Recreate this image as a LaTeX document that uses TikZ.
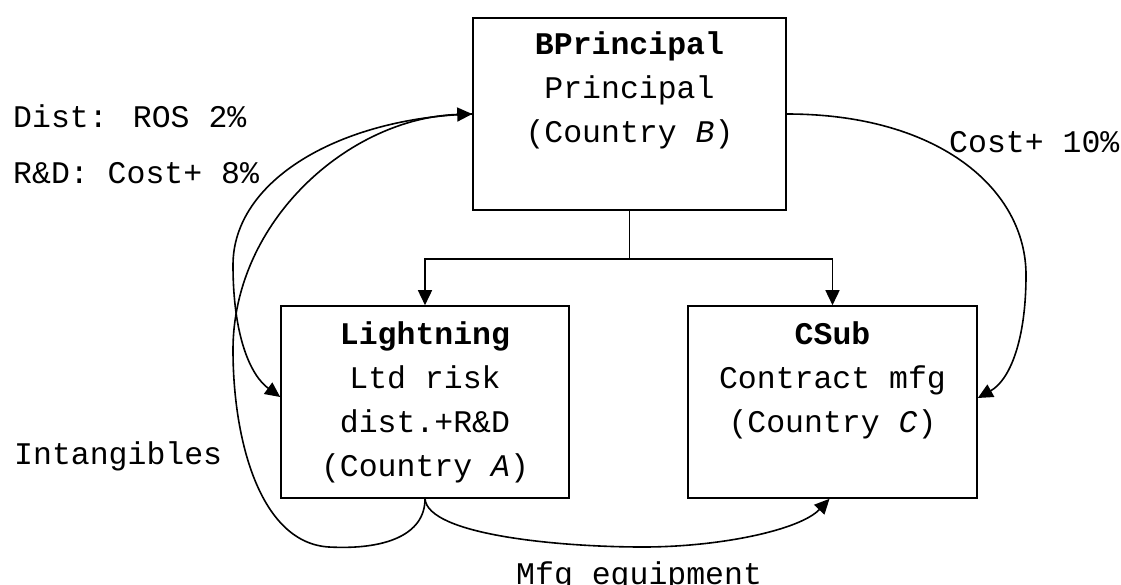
\documentclass[tikz,border=0pt]{standalone}
\usepackage{fontspec}
\setmainfont{Liberation Mono}
\usetikzlibrary{arrows.meta}
\tikzset{
  box/.style={draw, line width=1.6pt, rectangle, inner sep=0pt, minimum height=192pt},
  txt/.style={inner sep=0pt, font=\fontsize{31.5pt}{44pt}\selectfont},
  conn/.style={line width=1.6pt},
  arr/.style={conn, -{Triangle[length=15pt,width=14pt]}},
}
\newcommand{\boxlines}[1]{\begin{tabular}[t]{@{}c@{}}#1\end{tabular}}
\begin{document}
\begin{tikzpicture}[x=1pt,y=-1pt]
\fill[white] (0,0) rectangle (1121,584);
\useasboundingbox (0,0) rectangle (1121,584);

% boxes
\node[box, minimum width=313pt] (BP) at (629.5,114) {};
\node[box, minimum width=288pt] (L)  at (425,402) {};
\node[box, minimum width=289pt] (CS) at (832.5,402) {};

\node[txt, anchor=base] (BPt) at ([yshift=-37pt]BP.north)
  {\boxlines{\textbf{BPrincipal}\\Principal\\(Country \textit{B})}};
\node[txt, anchor=base] (Lt) at ([yshift=-39pt]L.north)
  {\boxlines{\textbf{Lightning}\\Ltd risk\\dist.+R\&D\\(Country \textit{A})}};
\node[txt, anchor=base] (CSt) at ([yshift=-39pt]CS.north)
  {\boxlines{\textbf{CSub}\\Contract mfg\\(Country \textit{C})}};

% orthogonal connectors
\draw[arr] (BP.south) -- ++(0,48) -| (L.north);
\draw[arr] (BP.south) -- ++(0,48) -| (CS.north);

% Intangibles: BP -> Lightning
\draw[arr] (BP.west) .. controls (340,118) and (233,180) .. (233,265)
  .. controls (233,335) and (250,375) .. ([yshift=5pt]L.west);

% Dist / R&D: Lightning -> BP
\draw[arr] (L.south) .. controls (425,535) and (385,550) .. (329,547)
  .. controls (260,543) and (233,440) .. (233,350)
  .. controls (233,220) and (350,118) .. (BP.west);

% Cost+ 10%: BP -> CSub
\draw[arr] (BP.east) .. controls (940,114) and (1026,190) .. (1026,275)
  .. controls (1026,340) and (1010,380) .. ([yshift=4pt]CS.east);

% Mfg equipment: Lightning -> CSub
\draw[arr] (L.south) .. controls (428,535) and (560,547) .. (643,547)
  .. controls (720,547) and (800,530) .. ([xshift=-3pt]CS.south);

% labels
\node[txt, anchor=base west] (dist) at (13,127) {Dist: ROS 2\%};
\node[txt, anchor=base west] (rd) at (13,183) {R\&D: Cost+ 8\%};
\node[txt, anchor=base west] (cost) at (949,152) {Cost+ 10\%};
\node[txt, anchor=base west] (intang) at (14,464) {Intangibles};
\node[txt, anchor=base west] (mfg) at (516,584) {Mfg equipment};
\end{tikzpicture}
\end{document}
